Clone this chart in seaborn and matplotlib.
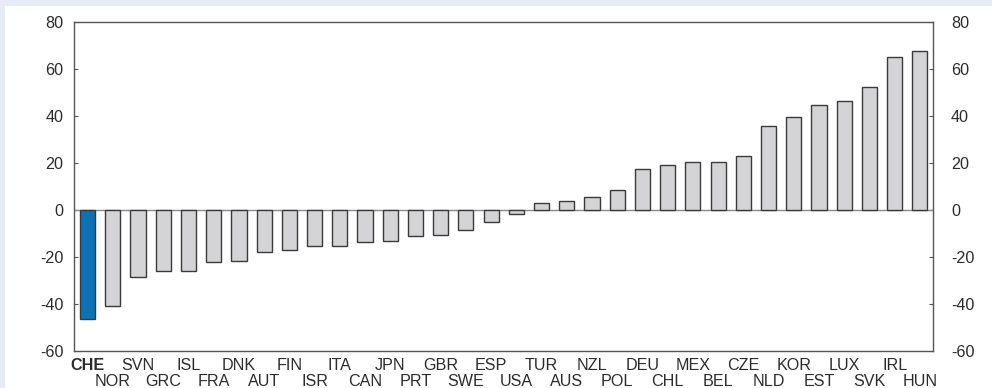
import matplotlib
matplotlib.use("Agg")
import matplotlib.pyplot as plt
import matplotlib.transforms as mtransforms
import seaborn as sns
import pandas as pd
from matplotlib.patches import Rectangle

countries = ["CHE", "NOR", "SVN", "GRC", "ISL", "FRA", "DNK", "AUT", "FIN", "ISR",
             "ITA", "CAN", "JPN", "PRT", "GBR", "SWE", "ESP", "USA", "TUR", "AUS",
             "NZL", "POL", "DEU", "CHL", "MEX", "BEL", "CZE", "NLD", "KOR", "EST",
             "LUX", "SVK", "IRL", "HUN"]
values = [-46.5, -40.9, -28.3, -26.1, -26.0, -22.0, -21.6, -17.8, -17.0, -15.5,
          -15.2, -13.6, -13.0, -11.1, -10.6, -8.7, -5.2, -1.6, 3.0, 3.8,
          5.5, 8.7, 17.3, 19.1, 20.4, 20.4, 22.8, 35.9, 39.4, 44.8,
          46.2, 52.3, 65.2, 67.7]
highlight = "CHE"
yticks = [-60, -40, -20, 0, 20, 40, 60, 80]

df = pd.DataFrame({"country": countries, "value": values})

sns.set_theme(style="white")
plt.rcParams["font.family"] = ["Liberation Sans", "DejaVu Sans"]

fig = plt.figure(figsize=(9.92, 3.88), dpi=100)
fig.patch.set_facecolor("#e6ebf5")
fig.patches.append(Rectangle((5 / 992, 0), 1, (388 - 6) / 388, transform=fig.transFigure,
                             facecolor="white", edgecolor="none", zorder=-10))
ax = fig.add_axes([74 / 992, (388 - 351) / 388, (933 - 74) / 992, (351 - 22) / 388])
ax.set_zorder(1)
ax.set_facecolor("white")

palette = {c: ("#0b72b6" if c == highlight else "#d4d4d6") for c in countries}
ax.axhline(0, color="#8a8a8a", lw=1.0, zorder=1)
sns.barplot(data=df, x="country", y="value", hue="country", palette=palette,
            order=countries, width=0.6, edgecolor="#3a3a3a", linewidth=1.0,
            legend=False, ax=ax, zorder=2, saturation=1)

ax.set_xlim(-0.54, len(countries) - 1 + 0.52)
ax.set_ylim(-60, 80)
ax.set_yticks(yticks)
ax.set_yticklabels([str(t) for t in yticks])
ax.set_xlabel("")
ax.set_ylabel("")

for s in ax.spines.values():
    s.set_color("#555555")
    s.set_linewidth(1.0)
    s.set_visible(True)

fs = 11.6
ax.tick_params(axis="y", which="both", direction="in", length=3, width=0.8, color="#555555",
               left=True, right=True, labelleft=True, labelright=True,
               labelsize=fs, labelcolor="#2b2b2b", pad=7.5)
ax.tick_params(axis="x", length=0, labelsize=fs, labelcolor="#2b2b2b")

ax.set_xticks(range(len(countries)))
ax.set_xticklabels(countries)
for i, tk in enumerate(ax.xaxis.get_major_ticks()):
    tk.set_pad(5 if i % 2 == 0 else 16.5)
    if countries[i] == highlight:
        tk.label1.set_fontweight("bold")

offset = mtransforms.ScaledTranslation(5.5 / 72, 0, fig.dpi_scale_trans)
for t in ax.yaxis.get_major_ticks():
    t.label2.set_transform(t.label2.get_transform() + offset)

fig.savefig("out.png", dpi=100, facecolor=fig.get_facecolor())
